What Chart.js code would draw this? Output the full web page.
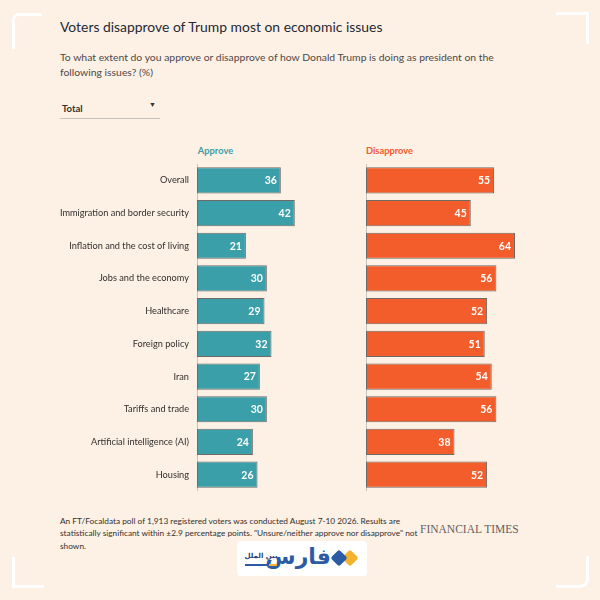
<!DOCTYPE html>
<html>
<head>
<meta charset="utf-8">
<script src="https://cdn.jsdelivr.net/npm/chart.js@4.4.1/dist/chart.umd.min.js"></script>
<style>
  html,body{margin:0;padding:0;}
  body{width:600px;height:600px;background:#fdf0e5;position:relative;overflow:hidden;font-family:Lato,"Open Sans",sans-serif;}
  .abs{position:absolute;}
  #title{left:60px;top:18px;font-size:13.9px;color:#262a33;white-space:nowrap;}
  #sub{left:60px;top:50px;width:445px;font-size:10.4px;line-height:15px;color:#4d4845;}
  #dd{left:60px;top:100px;width:100px;height:18px;border-bottom:1px solid #c9c2bb;font-size:9.5px;font-weight:bold;color:#33302e;}
  #dd span.arrow{position:absolute;right:4px;top:0px;font-size:7px;}
  .hdr{top:145px;font-size:9.3px;font-weight:bold;}
  #note{left:60px;top:515px;width:366px;font-size:8.3px;line-height:12.3px;color:#33302e;}
  #ft{left:420px;top:523px;font-family:"Liberation Serif","DejaVu Serif",serif;font-size:11.5px;color:#66605c;}
  .brk{position:absolute;border-color:#ffffff;border-style:solid;border-width:0;box-sizing:border-box;}
  #logo{left:237px;top:541px;width:130px;height:35px;background:#fff;border-radius:4px;}
  canvas{display:block;}
</style>
</head>
<body>
<div class="brk" style="left:12px;top:13px;width:30px;height:36px;border-left-width:3px;border-top-width:3px;border-top-left-radius:7px;"></div>
<div class="brk" style="left:556px;top:12px;width:33px;height:32px;border-right-width:3px;border-top-width:3px;"></div>
<div class="brk" style="left:12px;top:557px;width:32px;height:31px;border-left-width:3px;border-bottom-width:3px;"></div>
<div class="brk" style="left:556px;top:556px;width:33px;height:32px;border-right-width:3px;border-bottom-width:3px;border-bottom-right-radius:9px;"></div>

<div id="title" class="abs">Voters disapprove of Trump most on economic issues</div>
<div id="sub" class="abs">To what extent do you approve or disapprove of how Donald Trump is doing as president on the following issues? (%)</div>
<div id="dd" class="abs"><span style="position:absolute;left:2px;top:3px;">Total</span><span class="arrow">&#9660;</span></div>
<div id="hApprove" class="abs hdr" style="left:197px;width:37px;text-align:center;color:#3a9fa8;">Approve</div>
<div id="hDis" class="abs hdr" style="left:366px;width:47px;text-align:center;color:#f0592b;">Disapprove</div>

<div class="abs" style="left:40px;top:164px;width:320px;height:327px;"><canvas id="c1"></canvas></div>
<div class="abs" style="left:366px;top:164px;width:163px;height:327px;"><canvas id="c2"></canvas></div>

<div id="note" class="abs">An FT/Focaldata poll of 1,913 registered voters was conducted August 7-10 2026. Results are statistically significant within ±2.9 percentage points. "Unsure/neither approve nor disapprove" not shown.</div>
<div id="ft" class="abs">FINANCIAL TIMES</div>

<div id="logo" class="abs">
  <div class="abs" style="left:107px;top:11px;width:12px;height:12px;background:#f6b12d;transform:rotate(45deg);border-radius:2px;"></div>
  <div class="abs" style="left:96px;top:11px;width:12px;height:12px;background:#2c5ba4;transform:rotate(45deg);border-radius:2px;"></div>
  <div class="abs" dir="rtl" style="left:40px;top:0px;width:54px;text-align:right;font-family:'DejaVu Sans',sans-serif;font-weight:bold;font-size:22px;color:#2c5ba4;line-height:32px;white-space:nowrap;">فارس</div>
  <div class="abs" dir="rtl" style="left:6px;top:11px;width:36px;text-align:center;font-family:'DejaVu Sans',sans-serif;font-weight:bold;font-size:7px;color:#1f3f7a;line-height:9px;white-space:nowrap;">بین الملل</div>
  <div class="abs" style="left:8px;top:23px;width:24px;height:2px;background:#2c5ba4;"></div>
  <div class="abs" style="left:32px;top:23px;width:8px;height:2px;background:#f6b12d;"></div>
</div>

<script>
const categories = ["Overall","Immigration and border security","Inflation and the cost of living","Jobs and the economy","Healthcare","Foreign policy","Iran","Tariffs and trade","Artificial intelligence (AI)","Housing"];
const approveValues = [36,42,21,30,29,32,27,30,24,26];
const disapproveValues = [55,45,64,56,52,51,54,56,38,52];

const TEAL = "#3a9fa8";
const ORANGE = "#f25d2b";
const FONT = "Lato, 'Open Sans', sans-serif";

const valueLabels = {
  id: "valueLabels",
  afterDatasetsDraw(chart) {
    const ctx = chart.ctx;
    ctx.save();
    ctx.font = "bold 10.5px " + FONT;
    ctx.fillStyle = "#ffffff";
    ctx.textAlign = "right";
    ctx.textBaseline = "middle";
    chart.getDatasetMeta(0).data.forEach((bar, i) => {
      ctx.fillText(String(chart.data.datasets[0].data[i]), bar.x - 4, bar.y + 0.5);
    });
    ctx.restore();
  }
};

function makeChart(id, values, color, showLabels) {
  return new Chart(document.getElementById(id), {
    type: "bar",
    data: {
      labels: categories,
      datasets: [{
        data: values,
        backgroundColor: color,
        borderColor: "#6f6a66",
        borderWidth: 1,
        borderSkipped: false,
        barPercentage: 1,
        categoryPercentage: 0.8
      }]
    },
    options: {
      indexAxis: "y",
      responsive: true,
      maintainAspectRatio: false,
      animation: false,
      layout: { padding: 0 },
      plugins: { legend: { display: false }, tooltip: { enabled: false } },
      scales: {
        x: { display: false, min: 0, max: 70 },
        y: {
          grid: { display: false, drawTicks: false },
          border: { display: true, color: "#c8c2bc", width: 1 },
          ticks: {
            display: showLabels,
            padding: 8,
            color: "#33302e",
            font: { family: FONT, size: 9.2 }
          },
          afterFit(scale) {
            scale.width = showLabels ? 157 : 0;
            scale.paddingTop = 0;
            scale.paddingBottom = 0;
          }
        }
      }
    },
    plugins: [valueLabels]
  });
}

makeChart("c1", approveValues, TEAL, true);
makeChart("c2", disapproveValues, ORANGE, false);
</script>
</body>
</html>
